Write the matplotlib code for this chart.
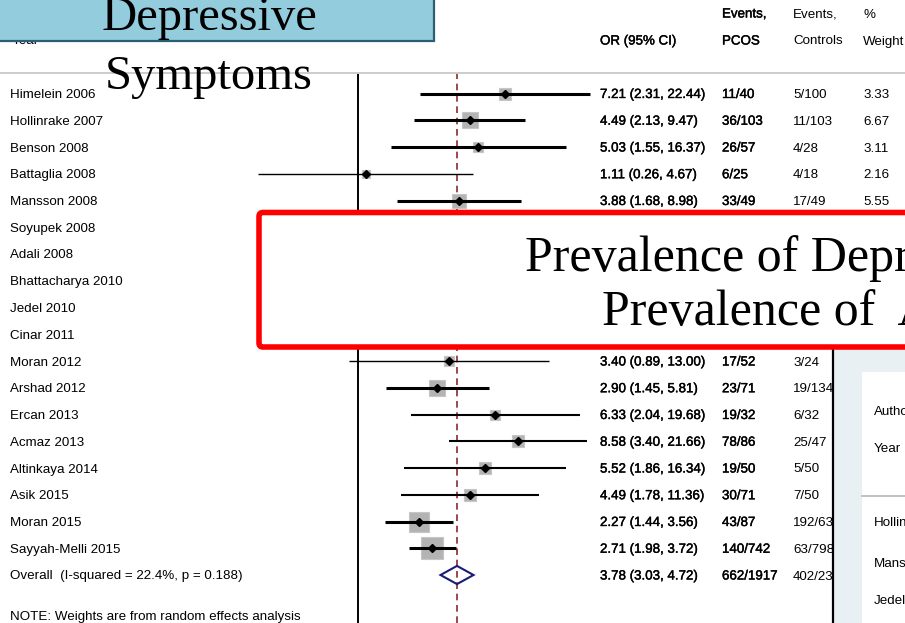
import matplotlib
matplotlib.use("Agg")
import matplotlib.pyplot as plt
from matplotlib.patches import Rectangle, FancyBboxPatch
import matplotlib.patheffects as pe
import numpy as np

# ---------------- study data ----------------
studies = ["Himelein 2006", "Hollinrake 2007", "Benson 2008", "Battaglia 2008",
           "Mansson 2008", "Soyupek 2008", "Adali 2008", "Bhattacharya 2010",
           "Jedel 2010", "Cinar 2011", "Moran 2012", "Arshad 2012", "Ercan 2013",
           "Acmaz 2013", "Altinkaya 2014", "Asik 2015", "Moran 2015",
           "Sayyah-Melli 2015"]
odds_ratio = [7.21, 4.49, 5.03, 1.11, 3.88, None, None, None, None, None,
              3.40, 2.90, 6.33, 8.58, 5.52, 4.49, 2.27, 2.71]
ci_low = [2.31, 2.13, 1.55, 0.26, 1.68, None, None, None, None, None,
          0.89, 1.45, 2.04, 3.40, 1.86, 1.78, 1.44, 1.98]
ci_high = [22.44, 9.47, 16.37, 4.67, 8.98, None, None, None, None, None,
           13.00, 5.81, 19.68, 21.66, 16.34, 11.36, 3.56, 3.72]
events_pcos = ["11/40", "36/103", "26/57", "6/25", "33/49", None, None, None,
               None, None, "17/52", "23/71", "19/32", "78/86", "19/50", "30/71",
               "43/87", "140/742"]
events_controls = ["5/100", "11/103", "4/28", "4/18", "17/49", None, None, None,
                   None, None, "3/24", "19/134", "6/32", "25/47", "5/50", "7/50",
                   "192/636", "63/798"]
weight_pct = [3.33, 6.67, 3.11, 2.16, 5.55, None, None, None, None, None,
              2.70, 7.00, 3.30, 4.30, 3.50, 4.40, 11.70, 14.50]
# line weight of each confidence interval
ci_lw = [2.2, 2.2, 2.2, 1.0, 2.2, None, None, None, None, None,
         1.0, 2.2, 1.5, 1.5, 1.5, 1.5, 2.2, 2.2]

overall_label = "Overall  (I-squared = 22.4%, p = 0.188)"
overall_or, overall_low, overall_high = 3.78, 3.03, 4.72
overall_pcos, overall_controls = "662/1917", "402/2336"
note_text = "NOTE: Weights are from random effects analysis"

title_lines = ["Depressive", "Symptoms"]
banner_lines = ["Prevalence of Depressive Symptoms", "Prevalence of  Anxiety Symptoms"]
side_header = ["Author", "Year"]
side_rows = ["Hollinrake", "Mansson", "Jedel"]

# ---------------- layout ----------------
W, H = 905, 623
ROW0, STEP = 93.5, 26.75          # pixel centre of first row, row spacing
PX_ONE, PX_PER_LN = 358.0, 74.45  # x pixel of OR = 1, pixels per unit ln(OR)
SANS = "Liberation Sans"
FS = 9.6
TEXT_DY = 1.5                     # optical centring of table text
heavy = [pe.withStroke(linewidth=0.3, foreground="black")]


def row_y(i):
    return ROW0 + STEP * i


def or_at(px):
    return np.exp((px - PX_ONE) / PX_PER_LN)


fig = plt.figure(figsize=(W / 100, H / 100), dpi=100)
fig.patch.set_facecolor("white")

# table text lives on a pixel-coordinate axes
base = fig.add_axes([0, 0, 1, 1], zorder=0)
base.set_xlim(0, W)
base.set_ylim(H, 0)
base.axis("off")


def txt(x, y, s, bold=False, **kw):
    t = base.text(x, y + TEXT_DY, s, family=SANS, fontsize=FS, va="center",
                  ha="left", color="black", **kw)
    if bold:
        t.set_path_effects(heavy)
    return t


# column headers
txt(12, 14, "Author")
txt(12, 40, "Year")
txt(600, 40, "OR (95% CI)", bold=True)
txt(722, 13, "Events,", bold=True)
txt(722, 40, "PCOS", bold=True)
txt(793, 13, "Events,")
txt(793, 40, "Controls")
txt(863, 13, "%")
txt(863, 40, "Weight")
base.plot([0, W], [73, 73], color="#c8c8c8", lw=1.3)

for i, name in enumerate(studies):
    y = row_y(i)
    txt(10, y, name)
    if odds_ratio[i] is not None:
        txt(600, y, f"{odds_ratio[i]:.2f} ({ci_low[i]:.2f}, {ci_high[i]:.2f})", bold=True)
        txt(722, y, events_pcos[i], bold=True)
        txt(793, y, events_controls[i])
        txt(863, y, f"{weight_pct[i]:.2f}")

n = len(studies)
txt(10, row_y(n), overall_label)
txt(600, row_y(n), f"{overall_or:.2f} ({overall_low:.2f}, {overall_high:.2f})", bold=True)
txt(722, row_y(n), overall_pcos, bold=True)
txt(793, row_y(n), overall_controls)
txt(10, row_y(n + 1.5), note_text)

# ---------------- forest panel (log odds-ratio scale) ----------------
top_px = 74
fx = fig.add_axes([250 / W, 0, 350 / W, (H - top_px) / H], zorder=1)
fx.set_xscale("log")
fx.set_xlim(or_at(250), or_at(600))
fx.set_ylim((H - ROW0) / STEP, (top_px - ROW0) / STEP)
fx.axis("off")
fx.patch.set_visible(False)

fx.axvline(1, color="black", lw=1.4, zorder=1)
fx.axvline(overall_or, color="#8b2a2a", lw=1.2, ls=(0, (4, 2.8)), zorder=1)

for i in range(n):
    if odds_ratio[i] is None:
        continue
    side_px = 6.03 * np.sqrt(weight_pct[i])
    fx.plot(odds_ratio[i], i, marker="s", ms=side_px * 0.72, color="#b3b3b3",
            mec="#c6c6c6", mew=0.8, zorder=2)
    fx.plot([ci_low[i], ci_high[i]], [i, i], color="black", lw=ci_lw[i],
            solid_capstyle="butt", zorder=3)
    fx.plot(odds_ratio[i], i, marker="D", ms=4.3, color="black", zorder=4)

half = 0.34
fx.fill([overall_low, overall_or, overall_high, overall_or],
        [n, n - half, n, n + half], facecolor="none", edgecolor="#1b1b78",
        lw=1.5, zorder=3)

# ---------------- overlay panels ----------------
ov = fig.add_axes([0, 0, 1, 1], zorder=5)
ov.set_xlim(0, W)
ov.set_ylim(H, 0)
ov.axis("off")
ov.patch.set_visible(False)

ov.add_patch(Rectangle((-5, -5), 439, 46, facecolor="#93cddd",
                       edgecolor="#2b5f73", lw=1.6, zorder=1))
ov.text(209, 30, title_lines[0], family="Liberation Serif", fontsize=35,
        ha="center", va="baseline", zorder=3)
ov.text(209, 89, title_lines[1], family="Liberation Serif", fontsize=35,
        ha="center", va="baseline", zorder=3)

# right-hand side panel
ov.add_patch(Rectangle((833, 348), 90, 290, facecolor="#e8f0f3",
                       edgecolor="none", zorder=1))
ov.plot([833, 833], [348, H + 2], color="black", lw=1.6, zorder=2)
ov.add_patch(Rectangle((862, 372), 60, 270, facecolor="white",
                       edgecolor="none", zorder=2))
ov.text(874, 412, side_header[0], family=SANS, fontsize=FS, va="center", zorder=3)
ov.text(874, 449, side_header[1], family=SANS, fontsize=FS, va="center", zorder=3)
ov.plot([862, W + 5], [496, 496], color="#bdbdbd", lw=1.3, zorder=3)
for s, y in zip(side_rows, [523, 564, 601]):
    ov.text(874, y, s, family=SANS, fontsize=FS, va="center", zorder=3)

# red banner
ov.add_patch(FancyBboxPatch((259, 212.5), 700, 134.5,
                            boxstyle="round,pad=0,rounding_size=4",
                            facecolor="white", edgecolor="#ff0000", lw=4,
                            zorder=4))
ov.text(525, 271, banner_lines[0], family="Liberation Serif", fontsize=36,
        ha="left", va="baseline", zorder=5)
ov.text(602, 325, banner_lines[1], family="Liberation Serif", fontsize=36,
        ha="left", va="baseline", zorder=5)

fig.savefig("out.png", dpi=100, facecolor="white")
